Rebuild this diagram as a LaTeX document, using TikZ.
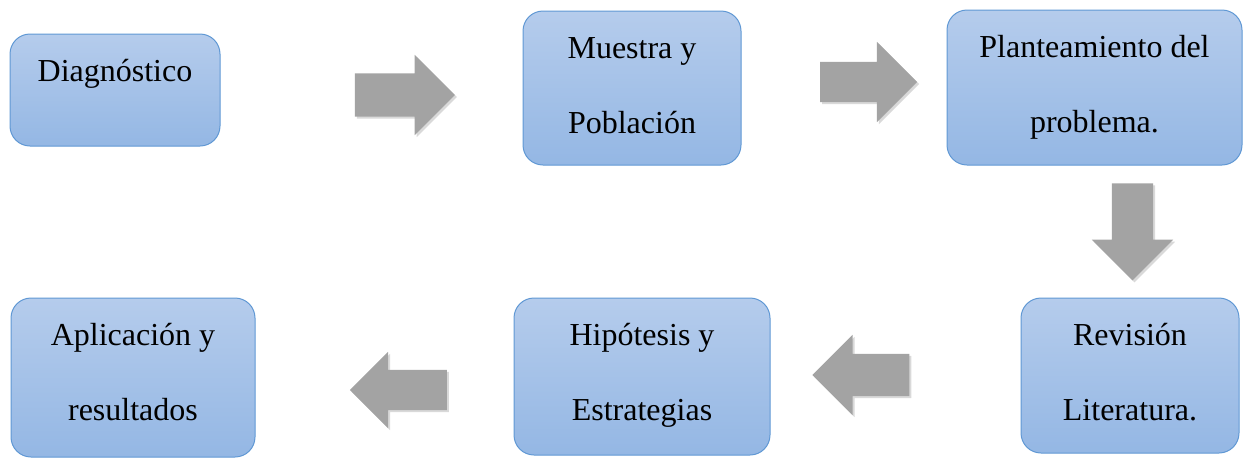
\documentclass[tikz,border=0pt]{standalone}
\usepackage{fontspec}
\setmainfont{Liberation Serif}
\usepackage{tikz}
\usetikzlibrary{shapes.arrows, shadows}

\definecolor{boxtop}{RGB}{181,204,236}
\definecolor{boxbot}{RGB}{148,183,228}
\definecolor{boxline}{RGB}{96,152,212}
\definecolor{arrowgray}{RGB}{163,163,163}

\tikzset{
    flowbox/.style={draw=boxline, line width=1pt, rounded corners=20pt,
        top color=boxtop, bottom color=boxbot, inner sep=0pt,
        font=\fontsize{32}{75}\selectfont},
    blockarrow/.style={single arrow, draw=none, fill=arrowgray, inner sep=20.5pt,
        minimum height=97pt, single arrow head extend=19.5pt,
        drop shadow={shadow xshift=2pt, shadow yshift=-2pt, opacity=0.3}}
}

% width, height, text
\newcommand{\boxbody}[3]{\parbox[t][#2][t]{#1}{\centering\rule{0pt}{47pt}#3}}

\begin{document}
\begin{tikzpicture}[x=1pt, y=-1pt]
                \useasboundingbox (0, 0) rectangle (1248, 459);

                \node[flowbox] (diag) at (115, 90) {\boxbody{210pt}{112pt}{Diagnóstico}};
                \node[flowbox] (muestra) at (632, 88) {\boxbody{218pt}{154pt}{Muestra y\\Población}};
                \node[flowbox] (plant) at (1094.5, 87.5) {\boxbody{295pt}{155pt}{Planteamiento del\\problema.}};
                \node[flowbox] (revis) at (1130, 375.5) {\boxbody{218pt}{155pt}{Revisión\\Literatura.}};
                \node[flowbox] (hipot) at (642, 376.5) {\boxbody{256pt}{157pt}{Hipótesis y\\Estrategias}};
                \node[flowbox] (aplic) at (133, 377.5) {\boxbody{244pt}{159pt}{Aplicación y\\resultados}};

                \node[blockarrow, minimum height=100pt, inner sep=21.5pt, single arrow head extend=18.5pt] (a1) at (394, 95) {};
                \node[blockarrow, inner sep=20pt, single arrow head extend=20pt] (a2) at (858.5, 82) {};
                \node[blockarrow, shape border rotate=270, single arrow head extend=20pt] (a3) at (1132.5, 221.5) {};
                \node[blockarrow, shape border rotate=180, inner sep=21pt, single arrow head extend=19pt] (a4) at (871.5, 375) {};
                \node[blockarrow, shape border rotate=180, inner sep=20pt, single arrow head extend=18pt] (a5) at (408.5, 390) {};
            \end{tikzpicture}
\end{document}
